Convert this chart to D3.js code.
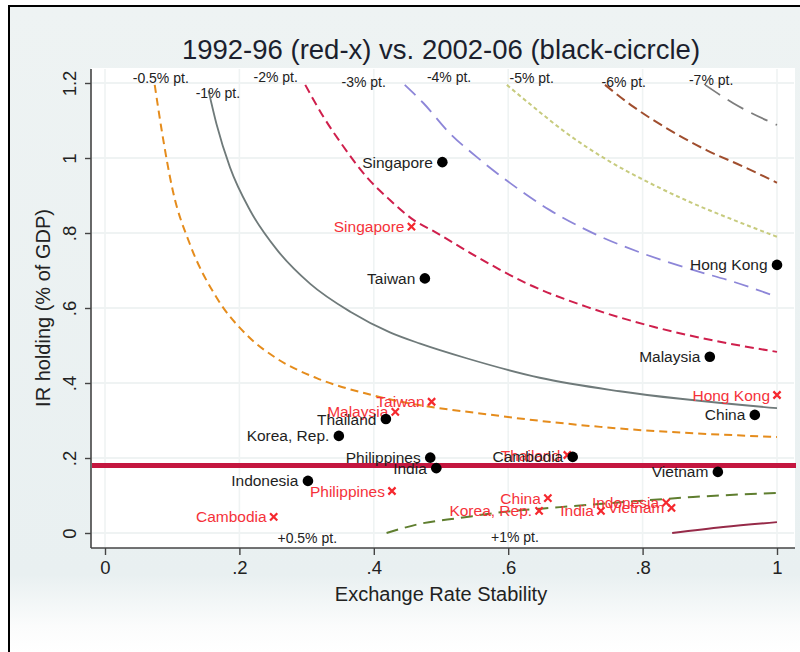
<!DOCTYPE html>
<html><head><meta charset="utf-8">
<script src="https://cdn.jsdelivr.net/npm/d3@7"></script>
<style>body{margin:0;background:#fff}svg{display:block;font-family:"Liberation Sans",Arial,sans-serif}</style>
</head><body><svg id="c" width="800" height="652"></svg>
<script>
// ---------- data ----------
const xTicks = [0, 0.2, 0.4, 0.6, 0.8, 1];
const xTickLabels = ["0", ".2", ".4", ".6", ".8", "1"];
const yTicks = [0, 0.2, 0.4, 0.6, 0.8, 1, 1.2];
const yTickLabels = ["0", ".2", ".4", ".6", ".8", "1", "1.2"];

const names2002 = ["Singapore","Taiwan","Hong Kong","Malaysia","China","Thailand","Korea, Rep.","Philippines","India","Cambodia","Indonesia","Vietnam"];
const ers2002   = [0.502, 0.476, 1.0, 0.900, 0.967, 0.418, 0.348, 0.484, 0.493, 0.696, 0.302, 0.912];
const ir2002    = [0.989, 0.679, 0.715, 0.470, 0.315, 0.304, 0.259, 0.201, 0.173, 0.203, 0.139, 0.163];

const names1992 = ["Singapore","Taiwan","Malaysia","Hong Kong","Thailand","Philippines","Cambodia","China","Korea, Rep.","India","Indonesia","Vietnam"];
const ers1992   = [0.456, 0.486, 0.432, 1.0, 0.688, 0.427, 0.251, 0.659, 0.646, 0.738, 0.835, 0.843];
const ir1992    = [0.817, 0.350, 0.323, 0.368, 0.208, 0.112, 0.043, 0.093, 0.059, 0.059, 0.081, 0.067];

const thresholdIR = 0.18;

// iso-effect curves [ers, ir]
const curveM05 = [[0.074,1.195],[0.084,1.078],[0.101,0.912],[0.126,0.772],[0.166,0.628],[0.211,0.528],[0.255,0.466],[0.315,0.413],[0.399,0.367],[0.588,0.312],[0.737,0.283],[1.0,0.256]];
const curveM1  = [[0.154,1.180],[0.166,1.090],[0.186,0.975],[0.216,0.860],[0.256,0.755],[0.305,0.665],[0.365,0.590],[0.424,0.535],[0.469,0.505],[0.538,0.466],[0.647,0.414],[0.766,0.378],[1.0,0.333]];
const curveM2  = [[0.298,1.195],[0.325,1.110],[0.355,1.030],[0.389,0.950],[0.424,0.888],[0.459,0.835],[0.489,0.805],[0.553,0.737],[0.628,0.665],[0.717,0.603],[0.816,0.550],[0.915,0.510],[1.0,0.483]];
const curveM3  = [[0.446,1.195],[0.474,1.146],[0.513,1.066],[0.553,1.003],[0.603,0.933],[0.662,0.861],[0.727,0.799],[0.801,0.745],[0.876,0.701],[0.935,0.670],[1.0,0.630]];
const curveM4  = [[0.598,1.195],[0.637,1.137],[0.687,1.066],[0.747,0.995],[0.811,0.933],[0.875,0.879],[0.935,0.835],[1.0,0.790]];
const curveM5  = [[0.744,1.195],[0.786,1.137],[0.836,1.079],[0.895,1.021],[0.950,0.977],[1.0,0.934]];
const curveM6  = [[0.893,1.195],[0.935,1.146],[1.0,1.088]];
const curveP05 = [[0.419,0.0],[0.470,0.025],[0.528,0.040],[0.592,0.056],[0.677,0.069],[0.777,0.083],[0.875,0.096],[1.0,0.107]];
const curveP1  = [[0.844,0.0],[0.920,0.016],[1.0,0.029]];

const curveLabels = ["-0.5% pt.","-1% pt.","-2% pt.","-3% pt.","-4% pt.","-5% pt.","-6% pt.","-7% pt.","+0.5% pt.","+1% pt."];
const curveLabelX = [0.083, 0.168, 0.254, 0.385, 0.512, 0.635, 0.772, 0.902, 0.301, 0.610];
const curveLabelY = [1.212, 1.172, 1.217, 1.203, 1.217, 1.212, 1.203, 1.208, -0.013, -0.010];

// ---------- drawing ----------
const svg = d3.select("#c");
const x = d3.scaleLinear().domain([0, 1]).range([105, 777]);
const y = d3.scaleLinear().domain([0, 1.2]).range([533, 83]);

const defs = svg.append("defs");
const grad = defs.append("linearGradient").attr("id","bg").attr("x1",0).attr("y1",0).attr("x2",0).attr("y2",1);
grad.append("stop").attr("offset","0%").attr("stop-color","#eef3f3");
grad.append("stop").attr("offset","88%").attr("stop-color","#e9f0f1");
grad.append("stop").attr("offset","96%").attr("stop-color","#fbfcfc");
grad.append("stop").attr("offset","100%").attr("stop-color","#ffffff");

svg.append("rect").attr("width",800).attr("height",652).attr("fill","#fff");
svg.append("rect").attr("x",9).attr("y",6).attr("width",791).attr("height",646).attr("fill","url(#bg)");
// frame
svg.append("line").attr("x1",8).attr("x2",800).attr("y1",6).attr("y2",6).attr("stroke","#000").attr("stroke-width",2);
svg.append("line").attr("x1",9).attr("x2",9).attr("y1",5).attr("y2",652).attr("stroke","#000").attr("stroke-width",2);

// plot region
svg.append("rect").attr("x",91).attr("y",68).attr("width",704).attr("height",480).attr("fill","#ffffff");

// grid
const g = svg.append("g");
g.selectAll("line.hg").data(yTicks).join("line")
  .attr("x1",92).attr("x2",794).attr("y1",d=>y(d)).attr("y2",d=>y(d))
  .attr("stroke","#eaefef").attr("stroke-width",1.6);
g.selectAll("line.vg").data(xTicks).join("line")
  .attr("y1",69).attr("y2",547).attr("x1",d=>x(d)).attr("x2",d=>x(d))
  .attr("stroke","#eff3f3").attr("stroke-width",1.6);

// title
svg.append("text").attr("x",441).attr("y",59).attr("text-anchor","middle")
  .attr("font-size",27.5).attr("fill","#1b1f2e").text("1992-96 (red-x) vs. 2002-06 (black-cicrcle)");

// curves
const line = d3.line().x(d=>x(d[0])).y(d=>y(d[1])).curve(d3.curveMonotoneX);
const curves = [
  {d: curveM05, c:"#e58c1c", w:2,   dash:"8,5"},
  {d: curveM1,  c:"#6f7a7a", w:1.8, dash:null},
  {d: curveM2,  c:"#cf1f4c", w:2,   dash:"9,5"},
  {d: curveM3,  c:"#8d86d8", w:1.8, dash:"15,8"},
  {d: curveM4,  c:"#c7cb7e", w:2,   dash:"4,3"},
  {d: curveM5,  c:"#a04e2e", w:2,   dash:"10,5"},
  {d: curveM6,  c:"#7d7d7d", w:1.8, dash:"18,9"},
  {d: curveP05, c:"#5f7e2f", w:2,   dash:"12,7"},
  {d: curveP1,  c:"#962a48", w:2,   dash:null}
];
svg.append("g").selectAll("path").data(curves).join("path")
  .attr("d",c=>line(c.d)).attr("fill","none").attr("stroke",c=>c.c)
  .attr("stroke-width",c=>c.w).attr("stroke-dasharray",c=>c.dash);

// threshold line
svg.append("line").attr("x1",92).attr("x2",796).attr("y1",y(thresholdIR)).attr("y2",y(thresholdIR))
  .attr("stroke","#c4163f").attr("stroke-width",5);

// curve labels
svg.append("g").selectAll("text").data(curveLabels).join("text")
  .attr("x",(d,i)=>x(curveLabelX[i])).attr("y",(d,i)=>y(curveLabelY[i]))
  .attr("dy","0.35em").attr("text-anchor","middle").attr("font-size",14).attr("fill","#222")
  .text(d=>d);

// 1992-96 red crosses
const r92 = svg.append("g");
const idx92 = d3.range(names1992.length);
r92.selectAll("path").data(idx92).join("path")
  .attr("transform",i=>`translate(${x(ers1992[i])},${y(ir1992[i])})`)
  .attr("d","M-3.6,-3.6L3.6,3.6M-3.6,3.6L3.6,-3.6").attr("stroke","#f5282e").attr("stroke-width",2.2);
r92.selectAll("text").data(idx92).join("text")
  .attr("x",i=>x(ers1992[i])-7).attr("y",i=>y(ir1992[i])).attr("dy","0.36em")
  .attr("text-anchor","end").attr("font-size",15.5).attr("fill","#f5323a").text(i=>names1992[i]);

// 2002-06 black circles
const b02 = svg.append("g");
const idx02 = d3.range(names2002.length);
b02.selectAll("circle").data(idx02).join("circle")
  .attr("cx",i=>x(ers2002[i])).attr("cy",i=>y(ir2002[i])).attr("r",5.3).attr("fill","#000");
b02.selectAll("text").data(idx02).join("text")
  .attr("x",i=>x(ers2002[i])-9.5).attr("y",i=>y(ir2002[i])).attr("dy","0.36em")
  .attr("text-anchor","end").attr("font-size",15.5).attr("fill","#1e1e1e").text(i=>names2002[i]);

// axes
const yAxis = d3.axisLeft(y).tickValues(yTicks).tickFormat((d,i)=>yTickLabels[i]).tickSize(6).tickPadding(8);
const ya = svg.append("g").attr("transform","translate(91,0)").call(yAxis);
ya.select(".domain").remove();
ya.selectAll(".tick line").attr("stroke","#444").attr("stroke-width",1.4);
ya.selectAll(".tick text").attr("font-size",18.5).attr("fill","#222").attr("font-family","Liberation Sans, Arial, sans-serif")
  .attr("text-anchor","middle").attr("dy",null).attr("x",null)
  .attr("transform","translate(-21,0) rotate(-90)").attr("dy","0.35em");
svg.append("line").attr("x1",91).attr("x2",91).attr("y1",69).attr("y2",548).attr("stroke","#444").attr("stroke-width",1.6);

const xAxis = d3.axisBottom(x).tickValues(xTicks).tickFormat((d,i)=>xTickLabels[i]).tickSize(7).tickPadding(6);
const xa = svg.append("g").attr("transform","translate(0,548)").call(xAxis);
xa.select(".domain").remove();
xa.selectAll(".tick line").attr("stroke","#444").attr("stroke-width",1.4);
xa.selectAll(".tick text").attr("font-size",18.5).attr("fill","#222").attr("font-family","Liberation Sans, Arial, sans-serif");
svg.append("line").attr("x1",91).attr("x2",795).attr("y1",548).attr("y2",548).attr("stroke","#444").attr("stroke-width",1.6);

// axis titles
svg.append("text").attr("x",441).attr("y",601).attr("text-anchor","middle").attr("font-size",20).attr("fill","#222")
  .text("Exchange Rate Stability");
svg.append("text").attr("transform","translate(50,308) rotate(-90)").attr("text-anchor","middle")
  .attr("font-size",20).attr("fill","#222").text("IR holding (% of GDP)");
</script></body></html>
